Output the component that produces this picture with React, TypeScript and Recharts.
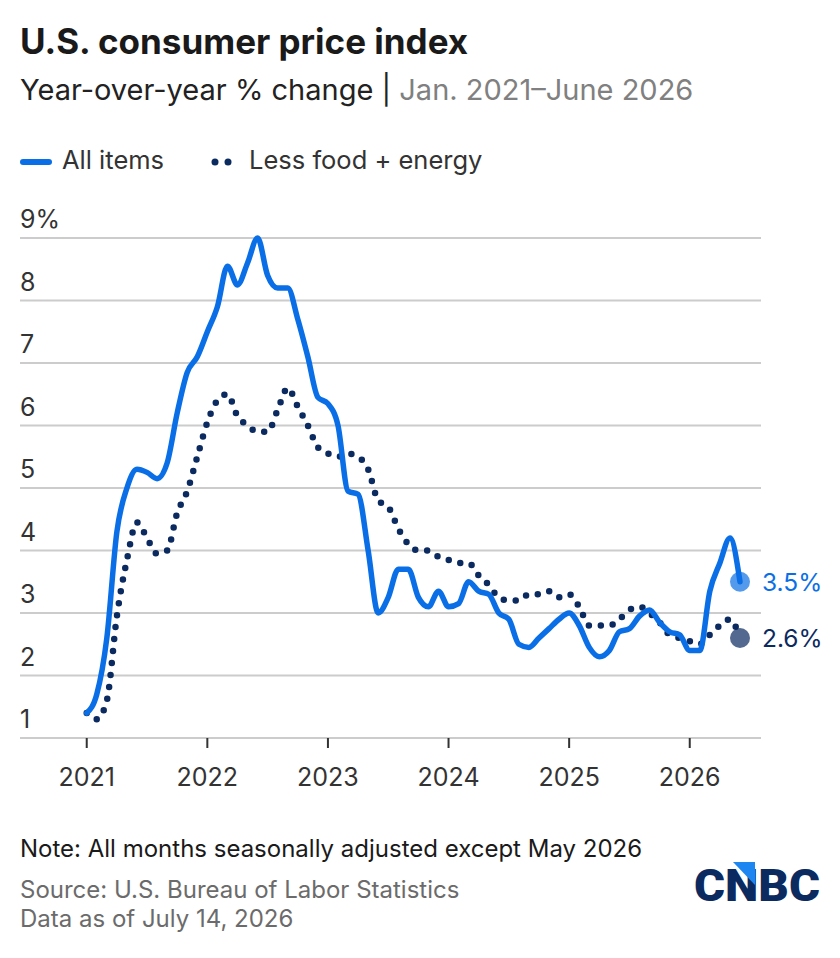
import React from "react"
import {
  LineChart,
  Line,
  XAxis,
  YAxis,
  CartesianGrid,
} from "recharts"

// Month index 0 = Jan. 2021, 65 = June 2026
const allItems = [
  1.4, 1.7, 2.6, 4.3, 5.0, 5.3, 5.25, 5.15, 5.4, 6.2, 6.85, 7.1,
  7.5, 7.9, 8.55, 8.25, 8.6, 9.0, 8.4, 8.2, 8.2, 7.7, 7.1, 6.45,
  6.35, 6.0, 4.95, 4.9, 4.0, 3.0, 3.25, 3.7, 3.7, 3.25, 3.1, 3.35,
  3.1, 3.15, 3.5, 3.35, 3.3, 3.0, 2.9, 2.5, 2.45, 2.6, 2.75, 2.9,
  3.0, 2.8, 2.45, 2.3, 2.4, 2.7, 2.75, 2.95, 3.05, 2.85, 2.7, 2.65,
  2.4, 2.4, 3.35, 3.8, 4.2, 3.5,
]

const coreItems = [
  1.4, 1.3, 1.6, 2.95, 3.85, 4.45, 4.2, 3.95, 4.0, 4.6, 4.95, 5.5,
  6.05, 6.4, 6.5, 6.15, 6.0, 5.9, 5.9, 6.25, 6.6, 6.3, 6.0, 5.65,
  5.55, 5.5, 5.55, 5.5, 5.3, 4.8, 4.7, 4.35, 4.1, 4.0, 4.0, 3.9,
  3.85, 3.8, 3.8, 3.6, 3.45, 3.25, 3.2, 3.2, 3.3, 3.3, 3.35, 3.25,
  3.3, 3.1, 2.8, 2.8, 2.8, 2.9, 3.05, 3.1, 3.0, 2.85, 2.65, 2.6,
  2.55, 2.5, 2.65, 2.8, 2.9, 2.6,
]

const yearLabels = ["2021", "2022", "2023", "2024", "2025", "2026"]
const yTicks = [1, 2, 3, 4, 5, 6, 7, 8, 9]

const BLUE = "#0A6FE6"
const NAVY = "#0B2A5F"
const FONT = "Inter, 'Noto Sans', sans-serif"

const data = allItems.map((v, i) => ({ i, all: v, core: coreItems[i] }))
const xTicks = yearLabels.map((_, k) => k * 12)
const last = data.length - 1

function XTick({ x, y, payload }: any) {
  const label = yearLabels[Math.round(payload.value / 12)]
  return (
    <text x={x} y={y + 36} textAnchor="middle" fontSize={25} fill="#333" fontFamily={FONT}>
      {label}
    </text>
  )
}

function YTick({ y, payload }: any) {
  const v = payload.value
  return (
    <text x={20} y={y - 10} textAnchor="start" fontSize={25} fill="#333" fontFamily={FONT}>
      {v === 9 ? "9%" : v}
    </text>
  )
}

function endDot(color: string, label: string) {
  return (props: any) => {
    const { cx, cy, index } = props
    if (index !== last) return <g key={`d${index}`} />
    return (
      <g key={`d${index}`}>
        <circle cx={cx} cy={cy} r={10} fill={color} fillOpacity={0.7} />
        <text x={cx + 22} y={cy + 9} fontSize={24.5} fill={color} fontFamily={FONT}>
          {label}
        </text>
      </g>
    )
  }
}

export default function App() {
  return (
    <div style={{ position: "absolute", left: 0, top: 0, width: 840, height: 958, background: "#fff" }}>
      <svg width={840} height={958} style={{ position: "absolute", left: 0, top: 0 }} fontFamily={FONT}>
        <text x={20} y={54} fontSize={35} fontWeight={700} fill="#1a1a1a">
          U.S. consumer price index
        </text>
        <text x={20} y={100} fontSize={29} fill="#222">
          Year-over-year % change |<tspan fill="#808080"> Jan. 2021–June 2026</tspan>
        </text>

        <line x1={23} y1={162} x2={49} y2={162} stroke={BLUE} strokeWidth={6} strokeLinecap="round" />
        <text x={62} y={169} fontSize={25.5} fill="#333">All items</text>
        <circle cx={215} cy={162} r={3.5} fill={NAVY} />
        <circle cx={228} cy={162} r={3.5} fill={NAVY} />
        <text x={249} y={169} fontSize={25.5} fill="#333">Less food + energy</text>

        <text x={20} y={857} fontSize={24} fill="#1a1a1a">
          Note: All months seasonally adjusted except May 2026
        </text>
        <text x={20} y={898} fontSize={24} fill="#6b6b6b">
          Source: U.S. Bureau of Labor Statistics
        </text>
        <text x={20} y={927} fontSize={24} fill="#6b6b6b">
          Data as of July 14, 2026
        </text>

        <text
          x={694}
          y={901}
          fontSize={44}
          fontWeight={900}
          fill={NAVY}
          fontFamily="Roboto, sans-serif"
          textLength={126}
          lengthAdjust="spacingAndGlyphs"
        >
          CNBC
        </text>
        <polygon points="733,862 755,862 755,885" fill="#1E86F0" />
      </svg>

      <div style={{ position: "absolute", left: 0, top: 0 }}>
        <LineChart
          width={840}
          height={800}
          data={data}
          margin={{ top: 238, right: 79, bottom: 0, left: 19 }}
        >
          <CartesianGrid horizontal vertical={false} stroke="#cccccc" strokeWidth={2} />
          <XAxis
            dataKey="i"
            type="number"
            domain={[-6.64, 67.09]}
            ticks={xTicks}
            height={62}
            axisLine={false}
            tickSize={10}
            tickLine={{ stroke: "#333", strokeWidth: 2 }}
            tick={<XTick />}
            interval={0}
          />
          <YAxis
            type="number"
            domain={[1, 9]}
            ticks={yTicks}
            width={1}
            axisLine={false}
            tickLine={false}
            tick={<YTick />}
            interval={0}
          />
          <Line
            type="monotoneX"
            dataKey="core"
            stroke={NAVY}
            strokeWidth={6.5}
            strokeDasharray="0 12"
            strokeLinecap="round"
            dot={endDot(NAVY, "2.6%")}
            activeDot={false}
            isAnimationActive={false}
          />
          <Line
            type="monotoneX"
            dataKey="all"
            stroke={BLUE}
            strokeWidth={5.5}
            strokeLinecap="round"
            dot={endDot(BLUE, "3.5%")}
            activeDot={false}
            isAnimationActive={false}
          />
        </LineChart>
      </div>
    </div>
  )
}
